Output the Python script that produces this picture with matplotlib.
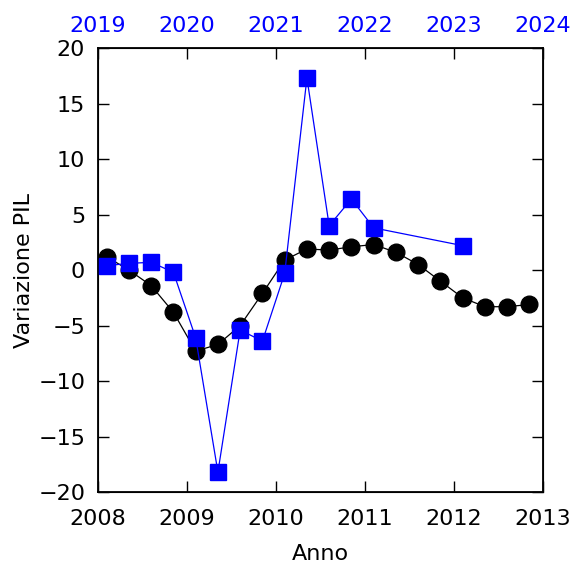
import numpy as np
import matplotlib
matplotlib.use('Agg')
from matplotlib import pyplot as plt

# dati trimestrali: PIL 2008-2012 (nero) e 2019-2023 (blu)
anni_neri = [2008.10, 2008.35, 2008.60, 2008.85, 2009.10, 2009.35, 2009.60, 2009.85,
             2010.10, 2010.35, 2010.60, 2010.85, 2011.10, 2011.35, 2011.60, 2011.85,
             2012.10, 2012.35, 2012.60, 2012.85]
pil_neri = [1.2, 0.0, -1.4, -3.8, -7.3, -6.7, -5.0, -2.1,
            0.9, 1.9, 1.8, 2.1, 2.3, 1.6, 0.5, -1.0,
            -2.5, -3.3, -3.3, -3.1]

anni_blu = [2019.10, 2019.35, 2019.60, 2019.85, 2020.10, 2020.35, 2020.60, 2020.85,
            2021.10, 2021.35, 2021.60, 2021.85, 2022.10, 2023.10]
pil_blu = [0.4, 0.6, 0.7, -0.2, -6.1, -18.2, -5.4, -6.4,
           -0.3, 17.3, 4.0, 6.4, 3.8, 2.2]

xticks_neri = [2008, 2009, 2010, 2011, 2012, 2013]
xticks_blu = [2019, 2020, 2021, 2022, 2023, 2024]
yticks = [-20, -15, -10, -5, 0, 5, 10, 15, 20]

plt.rcParams['font.family'] = ['DejaVu Sans']
plt.rcParams['font.size'] = 16

fig = plt.figure(figsize=(5.75, 5.65), dpi=100)
ax = fig.add_subplot(111)
fig.subplots_adjust(left=0.170, right=0.944, top=0.915, bottom=0.129)

ax.plot(anni_neri, pil_neri, color='black', lw=0.9, marker='o', ms=12, zorder=2)
ax.set_xlim(2008, 2013)
ax.set_ylim(-20, 20)
ax.set_xticks(xticks_neri)
ax.set_yticks(yticks)
ax.tick_params(direction='in', length=8, width=1, right=True, top=False)
ax.tick_params(axis='x', pad=12)
ax.tick_params(axis='y', pad=9)
ax.set_xlabel('Anno', labelpad=11)
ax.set_ylabel('Variazione PIL', labelpad=3)
for s in ax.spines.values():
    s.set_linewidth(1.3)

ax2 = ax.twiny()
ax2.plot(anni_blu, pil_blu, color='blue', lw=0.9, marker='s', ms=12, zorder=3)
ax2.set_xlim(2019, 2024)
ax2.set_xticks(xticks_blu)
ax2.tick_params(direction='in', length=8, width=1, labelcolor='blue', color='black', pad=9)
ax2.set_ylim(-20, 20)

plt.savefig('out.png', dpi=100)
